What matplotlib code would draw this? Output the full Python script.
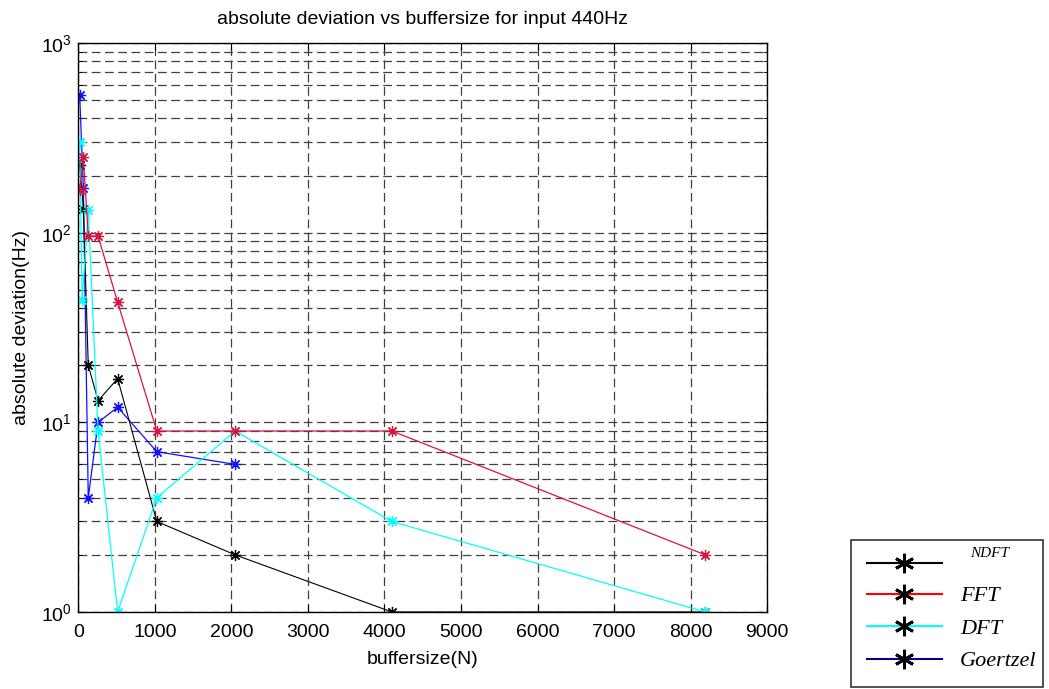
import matplotlib
matplotlib.use('Agg')
import matplotlib.pyplot as plt
from matplotlib.lines import Line2D
from matplotlib.ticker import LogLocator, NullFormatter, MultipleLocator
from matplotlib.transforms import ScaledTranslation

# buffersize (N) vs absolute deviation (Hz)
x_ndft = [16, 64, 128, 256, 512, 1024, 2048, 4096, 8192]
y_ndft = [228, 134, 20, 13, 17, 3, 2, 1, 1]

x_fft = [16, 64, 128, 256, 512, 1024, 2048, 4096, 8192]
y_fft = [168, 250, 96, 96, 43, 9, 9, 9, 2]

x_dft = [16, 48, 128, 256, 512, 1024, 2048, 4096, 8192]
y_dft = [300, 44, 131, 9, 1, 4, 9, 3, 1]

x_goe = [16, 64, 128, 256, 512, 1024, 2048]
y_goe = [530, 172, 4, 10, 12, 7, 6]

names = ['NDFT', 'FFT', 'DFT', 'Goertzel']
legend_colors = ['black', 'red', 'cyan', '#000080']

plt.rcParams['font.family'] = ['Liberation Sans', 'DejaVu Sans']

fig = plt.figure(figsize=(10.49, 6.89), dpi=100)
ax = fig.add_axes([0.0748, 0.1118, 0.6564, 0.8258])

ast = (8, 2, 0)
ax.plot(x_goe, y_goe, color='#1010ff', lw=0.9, marker=ast, ms=8, mew=0.9)
ax.plot(x_ndft, y_ndft, color='black', lw=0.8, marker=ast, ms=8, mew=0.9)
ax.plot(x_dft, y_dft, color='cyan', lw=0.9, marker=ast, ms=8, mew=0.9)
ax.plot(x_fft, y_fft, color='#d81440', lw=0.9, marker=ast, ms=8, mew=0.9)

ax.set_yscale('log')
ax.set_ylim(1, 1000)
ax.set_xlim(0, 9000)
ax.xaxis.set_major_locator(MultipleLocator(1000))
ax.yaxis.set_minor_locator(LogLocator(base=10, subs=range(2, 10)))
ax.yaxis.set_minor_formatter(NullFormatter())

dash = (0, (7, 3.6))
ax.grid(True, which='major', axis='both', color='0.25', linestyle=dash, lw=0.9)
ax.grid(True, which='minor', axis='y', color='0.25', linestyle=dash, lw=0.9)
ax.tick_params(which='both', direction='in', top=True, right=True, labelsize=14)
ax.tick_params(which='major', length=5)
ax.tick_params(which='minor', length=3)
ax.tick_params(axis='x', pad=9)
ax.tick_params(axis='y', pad=5)
for s in ax.spines.values():
    s.set_linewidth(1.0)

ax.set_title('absolute deviation vs buffersize for input 440Hz', fontsize=14, pad=14)
ax.set_xlabel('buffersize(N)', fontsize=14, labelpad=7)
ax.set_ylabel('absolute deviation(Hz)', fontsize=14, labelpad=8)

handles = [Line2D([], [], color=c, lw=1.5, marker=(6, 2, 0), ms=14, mew=2,
                  markeredgecolor='black') for c in legend_colors]
leg = fig.legend(handles, names, loc='lower left',
                 bbox_to_anchor=(851 / 1049, 2 / 689, 192 / 1049, 146 / 689),
                 mode='expand', borderaxespad=0, borderpad=0.7, numpoints=1,
                 handlelength=3.4, handletextpad=0.8, labelspacing=0.54,
                 fancybox=False,
                 prop={'family': 'Liberation Serif', 'style': 'italic', 'size': 16})
leg.get_frame().set_edgecolor('black')
leg.get_frame().set_linewidth(1.2)
t0 = leg.get_texts()[0]
t0.set_fontsize(11)
t0.set_transform(t0.get_transform() + ScaledTranslation(0.1, 0.14, fig.dpi_scale_trans))

fig.savefig('out.png', dpi=100)
